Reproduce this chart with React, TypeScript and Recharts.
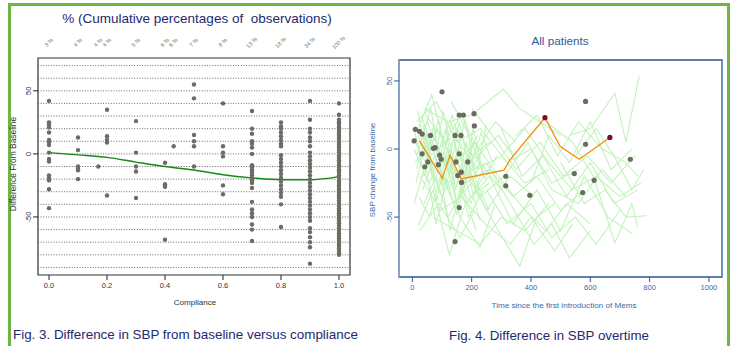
import React from "react";
import {
  ComposedChart, Scatter, Line, XAxis, YAxis, ReferenceLine, ReferenceArea,
} from "recharts";

const FONT = "'Liberation Sans', Arial, Helvetica, sans-serif";

// ---- Fig. 3 : difference from baseline vs compliance
const complianceLevels = [0, 0.1, 0.17, 0.2, 0.3, 0.4, 0.43, 0.5, 0.6, 0.7, 0.8, 0.9, 1.0];
const cumulativeLabels = ["3 %", "4 %", "4 %", "4 %", "5 %", "6 %", "6 %", "7 %", "8 %", "13 %", "18 %", "34 %", "100 %"];
const diffByLevel = [
  [42, 25, 23, 21, 17, 11, 9, 7, 1, -4, -6, -17, -19, -21, -28, -43],
  [13, 3, -10, -12, -13, -20],
  [-10],
  [35, 14, 11, 9, -33],
  [26, 1, -10, -14, -35],
  [-7, -24, -26, -68],
  [6],
  [55, 44, 15, 10, 6, -10],
  [40, 6, 1, -2, -25, -32],
  [34, 20, 16, 10, 8, 5, 0, -9, -11, -13, -15, -17, -19, -21, -23, -27, -38, -44, -47, -50, -56, -60, -69],
  [25, 22, 20, 17, 14, 11, 8, 6, -1, -4, -7, -10, -13, -16, -19, -22, -25, -28, -31, -34, -40, -58],
  [42, 27, 20, 17, 13, 10, 6, 1, -2, -5, -8, -11, -14, -17, -20, -23, -26, -29, -32, -35, -38, -41, -44, -47, -50, -53, -59, -62, -66, -70, -74, -87],
  [40, 31, 27, 25, 23, 21, 19, 17, 15, 13, 11, 9, 7, 5, 3, 1, -1, -3, -5, -7, -9, -11, -13, -15, -17, -19, -21, -23, -25, -27, -29, -31, -33, -35, -37, -39, -41, -43, -45, -47, -49, -51, -53, -55, -57, -59, -61, -63, -65, -67, -69, -71, -73, -75, -77, -79, -80],
];
const trendCompliance = [0, 0.1, 0.2, 0.3, 0.4, 0.5, 0.6, 0.7, 0.8, 0.9, 1.0];
const trendDiff = [1, -0.8, -2.8, -6.5, -10, -12.8, -16.5, -19, -20.5, -20.5, -18];
const complianceTicks = [0, 0.2, 0.4, 0.6, 0.8, 1.0];
const diffTicks = [-50, 0, 50];
const gridLevels = [-90, -80, -70, -60, -50, -40, -30, -20, -10, 0, 10, 20, 30, 40, 50, 60, 70];

// ---- Fig. 4 : SBP change over time
const grayTime = [100, 584, 208, 158, 172, 209, 10, 24, 33, 61, 144, 164, 6, 71, 77, 33, 92, 158, 97, 52, 147, 187, 88, 42, 165, 153, 166, 158, 144, 315, 315, 396, 546, 584, 613, 574, 735];
const grayChange = [42, 35, 26, 25, 25, 17, 14.5, 13, 11, 10, 10, 10, 6, 0.5, 1, -3.5, -4.5, -3.5, -7.5, -9.5, -9.5, -9.5, -11.5, -13, -17, -19.5, -24.5, -43, -68, -20, -27, -34, -18, 3.5, -23, -32, -7.5];
const highlightTime = [447, 666];
const highlightChange = [23, 8.5];
const orangeTime = [24, 101, 127, 165, 309, 329, 447, 498, 563, 666];
const orangeChange = [6, -21.5, -4.5, -22, -15.5, -8, 23, 2, -7.5, 8.5];
const timeTicks = [0, 200, 400, 600, 800, 1000];
const sbpTicks = [-50, 0, 50];
const patientPaths: [number, number][][] = [
  [[20, 15], [65, 40], [100, 10], [150, -20], [210, -5], [300, -30]],
  [[10, -10], [60, 5], [120, -30], [180, -10], [250, -45], [330, -20], [410, -35]],
  [[30, 25], [90, -15], [140, -40], [200, -25], [290, -60], [362, -86], [420, -50], [480, -40]],
  [[5, 0], [55, -25], [110, -5], [160, -50], [228, -72], [280, -40]],
  [[20, -56], [70, -30], [125, -78], [170, -45], [240, -20]],
  [[40, 30], [120, 20], [200, 25], [307, 44], [360, 30], [430, 20], [500, 10]],
  [[15, 20], [80, 35], [150, 5], [230, 15], [320, -10], [400, 0], [470, -25], [560, -15]],
  [[50, 10], [130, -15], [210, 5], [290, -20], [380, -45], [450, -60], [520, -40], [600, -55]],
  [[25, -20], [95, -45], [165, -35], [245, -55], [330, -70], [400, -50], [480, -75], [540, -55]],
  [[530, 10], [600, 15], [683, 41], [720, 5], [765, 54]],
  [[450, 20], [540, 5], [610, -20], [683, -69], [740, -40], [760, -58]],
  [[500, -10], [580, -40], [650, -30], [720, -50], [790, -49]],
  [[300, -5], [380, 15], [460, -10], [540, -30], [620, -20], [700, -35], [770, -25]],
  [[350, 10], [420, 25], [490, -5], [560, 20], [640, 0], [720, -10], [760, -20]],
  [[100, -10], [180, -25], [260, -15], [340, -35], [420, -20], [500, -45], [580, -30]],
  [[60, -5], [140, 10], [220, -15], [300, -5], [380, -25], [460, -15]],
  [[10, 5], [45, -10], [85, 15], [130, -5], [185, -20], [240, 0]],
  [[35, -30], [75, -5], [115, -25], [155, 0], [195, -35], [260, -25]],
  [[15, -5], [50, 20], [90, 0], [135, 25], [175, -10], [220, 10]],
  [[70, -50], [150, -60], [230, -70], [300, -50], [380, -60], [460, -40]],
  [[200, 30], [270, 10], [350, -15], [430, 5], [510, -20], [590, -5], [670, -25], [750, -5]],
  [[250, -30], [320, -55], [400, -40], [470, -65], [550, -50], [620, -70], [700, -45]],
  [[20, 10], [60, -15], [100, -35], [145, -15], [190, -50], [240, -30]],
  [[40, -40], [80, -20], [120, -50], [170, -30], [215, -60]],
  [[5, 15], [30, -5], [70, 10], [110, -12], [150, 15], [200, -5], [260, 5]],
  [[400, -25], [460, 10], [530, -10], [600, 20], [670, -15], [740, 0]],
  [[550, -5], [620, 15], [680, -5], [740, -30], [780, -15]],
  [[130, 35], [180, 15], [220, -5], [290, 10], [340, -5]],
  [[25, -60], [90, -40], [160, -65], [210, -45]],
  [[45, 25], [110, 5], [165, 25], [220, 0], [280, 20], [350, 5]],
  [[300, 15], [370, -20], [440, -5], [520, -35], [600, -10], [680, -40], [760, -30]],
  [[80, 0], [160, -20], [250, -10], [330, -40], [410, -70], [470, -55], [530, -80], [600, -60]],
  [[8, 12], [40, -20], [72, 18], [105, -28], [138, 8], [172, -30], [205, 15], [240, -18]],
  [[12, -25], [48, 8], [82, -38], [118, 0], [152, -42], [186, -8], [222, -36]],
  [[18, 28], [52, -8], [88, 22], [124, -20], [158, 20], [194, -15], [232, 12], [270, -10]],
  [[6, -40], [44, -12], [80, -55], [116, -22], [150, -48], [188, -18], [226, -52]],
  [[28, 5], [62, 30], [96, -12], [132, 20], [168, -25], [204, 3], [244, -22], [285, -5]],
  [[14, -15], [46, 12], [78, -25], [112, 15], [146, -30], [182, 5], [218, -25], [258, -45]],
  [[36, 18], [68, -22], [104, 28], [142, -12], [178, 22], [214, -20], [250, 18]],
  [[22, -35], [58, -50], [94, -20], [128, -60], [162, -28], [198, -40], [236, -15]],
  [[150, 0], [230, -35], [310, -20], [390, 5], [470, -30], [560, -40], [640, -15], [720, -35]],
  [[180, -40], [260, -20], [340, -55], [420, -30], [500, -60], [580, -20], [660, -50], [740, -62]],
];

const NAVY = "#23296e";
const STEEL = "#3a6aa3";

const Dot = (color: string, r: number) => (p: any) =>
  <circle cx={p.cx} cy={p.cy} r={r} fill={color} />;

const sideTick = (color: string) => (p: any) => (
  <text x={p.x} y={p.y} transform={`rotate(-90 ${p.x} ${p.y})`} textAnchor="middle"
    fontSize={7.5} fontFamily={FONT} fill={color}>{p.payload.value}</text>
);

const TopTick = (p: any) => (
  <text x={p.x + 1} y={p.y - 14} transform={`rotate(-45 ${p.x + 1} ${p.y - 14})`} textAnchor="middle"
    fontSize={5.5} fontFamily={FONT} fill="#666">{cumulativeLabels[p.index]}</text>
);

const Txt = ({ x, y, size, color, rotate, children, anchor }: any) => (
  <div style={{
    position: "absolute", left: x, top: y, fontSize: size, color, fontFamily: FONT,
    whiteSpace: "pre", lineHeight: 1,
    transform: `translate(${anchor === "start" ? "0" : "-50%"}, -50%)${rotate ? " rotate(-90deg)" : ""}`,
  }}>{children}</div>
);

function ComplianceChart() {
  const points = complianceLevels.flatMap((c, i) => diffByLevel[i].map((d) => ({ c, d })));
  const trend = trendCompliance.map((c, i) => ({ c, d: trendDiff[i] }));
  const xDom: [number, number] = [-0.038, 1.038];
  const yDom: [number, number] = [-96, 76];
  return (
    <ComposedChart width={370} height={346} margin={{ top: 38, right: 20, bottom: 41, left: 8 }}
      style={{ position: "absolute", left: 0, top: 0 }}>
      <XAxis xAxisId="top" orientation="top" dataKey="c" type="number" domain={xDom} allowDataOverflow
        ticks={complianceLevels} height={20} axisLine={false} tickLine={false} tickSize={0} tickMargin={0}
        tick={TopTick} interval={0} />
      <XAxis dataKey="c" type="number" domain={xDom} allowDataOverflow ticks={complianceTicks} height={30}
        axisLine={false} tickSize={5} tickMargin={3} tickLine={{ stroke: "#222" }} interval={0}
        tick={{ fontSize: 7.5, fill: "#333", fontFamily: FONT }} tickFormatter={(v: number) => v.toFixed(1)} />
      <YAxis dataKey="d" type="number" domain={yDom} allowDataOverflow ticks={diffTicks} width={30}
        axisLine={false} tickSize={5} tickMargin={2} tickLine={{ stroke: "#222" }} tick={sideTick("#333")} />
      {gridLevels.map((g) => (
        <ReferenceLine key={g} y={g} stroke="#444" strokeDasharray="1 1.6" strokeWidth={0.8} ifOverflow="visible" />
      ))}
      <ReferenceArea x1={xDom[0]} x2={xDom[1]} y1={yDom[0]} y2={yDom[1]} fill="none" stroke="#333"
        strokeWidth={1.2} ifOverflow="visible" />
      <Scatter data={points} fill="#6c6c64" shape={Dot("#6c6c64", 2.2)} isAnimationActive={false} />
      <Line data={trend} dataKey="d" type="monotone" stroke="#138a13" strokeWidth={1.4} dot={false}
        isAnimationActive={false} />
    </ComposedChart>
  );
}

function OvertimeChart() {
  const paths = patientPaths.map((path) => path.map(([t, v]) => ({ t, v })));
  const grays = grayTime.map((t, i) => ({ t, v: grayChange[i] }));
  const highlights = highlightTime.map((t, i) => ({ t, v: highlightChange[i] }));
  const orange = orangeTime.map((t, i) => ({ t, v: orangeChange[i] }));
  const xDom: [number, number] = [-45, 1044];
  const yDom: [number, number] = [-94, 65.4];
  return (
    <ComposedChart width={361} height={346} margin={{ top: 60, right: 9, bottom: 39, left: 9 }}
      style={{ position: "absolute", left: 370, top: 0 }}>
      <XAxis dataKey="t" type="number" domain={xDom} allowDataOverflow ticks={timeTicks} height={30}
        axisLine={false} tickSize={5} tickMargin={3} tickLine={{ stroke: "#2d5591" }} interval={0}
        tick={{ fontSize: 7.5, fill: STEEL, fontFamily: FONT }} />
      <YAxis dataKey="v" type="number" domain={yDom} allowDataOverflow ticks={sbpTicks} width={20}
        axisLine={false} tickSize={5} tickMargin={2} tickLine={{ stroke: "#2d5591" }} tick={sideTick(STEEL)} />
      {paths.map((p, i) => (
        <Line key={i} data={p} dataKey="v" type="linear" stroke="#c2f3bc" strokeWidth={1.1} dot={false}
          isAnimationActive={false} />
      ))}
      <Scatter data={grays} shape={Dot("#6b6b62", 2.6)} isAnimationActive={false} />
      <Line data={orange} dataKey="v" type="linear" stroke="#f28e0c" strokeWidth={1.3} dot={false}
        isAnimationActive={false} />
      <Scatter data={highlights} shape={Dot("#7a0b2c", 2.6)} isAnimationActive={false} />
      <ReferenceArea x1={xDom[0]} x2={xDom[1]} y1={yDom[0]} y2={yDom[1]} fill="none" stroke="#2d5591"
        strokeWidth={1.3} ifOverflow="visible" />
      <ReferenceLine x={xDom[0]} stroke="#8aa4c6" strokeWidth={1.8} ifOverflow="visible" />
    </ComposedChart>
  );
}

export default function App() {
  return (
    <div style={{ position: "absolute", left: 0, top: 0, width: 731, height: 346, background: "#fff", overflow: "hidden" }}>
      <div style={{
        position: "absolute", left: 8, top: 3, width: 716, height: 360,
        borderLeft: "3px solid #6eb544", borderTop: "3px solid #6eb544", borderRight: "3px solid #6eb544",
      }} />
      <ComplianceChart />
      <OvertimeChart />
      <Txt x={197} y={19} size={13.5} color={NAVY}>% (Cumulative percentages of  observations)</Txt>
      <Txt x={13} y={164} size={8.4} color="#333" rotate>Difference From Baseline</Txt>
      <Txt x={195} y={303} size={8.1} color="#333">Compliance</Txt>
      <Txt x={13} y={335} size={13.4} color={NAVY} anchor="start">Fig. 3. Difference in SBP from baseline versus compliance</Txt>
      <Txt x={560} y={41} size={11.7} color="#2e5c9a">All patients</Txt>
      <Txt x={373} y={170} size={8} color={STEEL} rotate>SBP change from baseline</Txt>
      <Txt x={564} y={306} size={8.1} color={STEEL}>Time since the first introduction of Mems</Txt>
      <Txt x={549} y={336} size={13.3} color={NAVY}>Fig. 4. Difference in SBP overtime</Txt>
    </div>
  );
}
